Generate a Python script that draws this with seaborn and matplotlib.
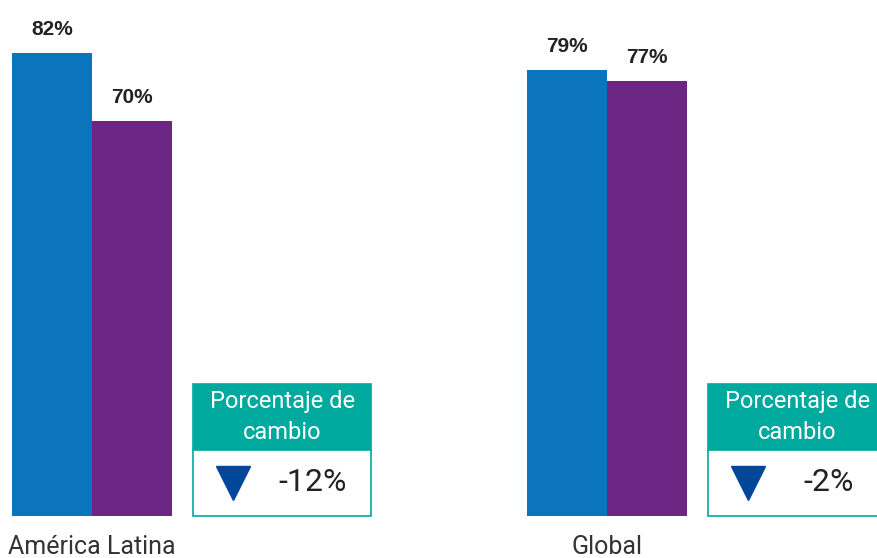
import matplotlib
matplotlib.use("Agg")
import matplotlib.pyplot as plt
from matplotlib.patches import Rectangle
import seaborn as sns
import pandas as pd

regions = ["América Latina", "Global"]
series = ["Antes", "Después"]
values_before = [82, 79]
values_after = [70, 77]
changes = ["-12%", "-2%"]
box_header = "Porcentaje de\ncambio"

blue = "#0A74BD"
purple = "#6B2783"
teal = "#00A99D"
arrow_blue = "#00479A"

df = pd.DataFrame({
    "region": regions * 2,
    "serie": [series[0]] * 2 + [series[1]] * 2,
    "valor": values_before + values_after,
})

sns.set_theme(style="white")
plt.rcParams["font.family"] = ["Roboto", "DejaVu Sans"]

fig = plt.figure(figsize=(8.77, 5.58), dpi=100)
ax = fig.add_axes([0, 42 / 558, 1, 516 / 558])

sns.barplot(data=df, x="region", y="valor", hue="serie", palette=[blue, purple],
            width=0.311, saturation=1, legend=False, ax=ax, errorbar=None,
            linewidth=0, edgecolor="none")

for cont in ax.containers:
    ax.bar_label(cont, labels=[f"{v:.0f}%" for v in cont.datavalues], padding=10,
                 fontsize=15, fontweight="bold", color="#222222",
                 family=["Liberation Sans", "DejaVu Sans"])

ax.set_ylim(0, 91.4)
ax.set_xlim(-0.1786, 1.524)
for s in ax.spines.values():
    s.set_visible(False)
ax.set_yticks([])
ax.set_xlabel("")
ax.set_ylabel("")
ax.tick_params(axis="x", length=0, pad=14, labelsize=18, labelcolor="#333333")
for t in ax.get_xticklabels():
    t.set_fontweight("normal")

# change boxes
box_left = 0.196
box_w = 0.346
y_top = 23.4
y_mid = 11.7
for i, ch in enumerate(changes):
    x0 = i + box_left
    ax.add_patch(Rectangle((x0, y_mid), box_w, y_top - y_mid, facecolor=teal,
                           edgecolor=teal, lw=1.2, clip_on=False, zorder=3))
    ax.add_patch(Rectangle((x0, 0), box_w, y_mid, facecolor="white",
                           edgecolor=teal, lw=1.2, clip_on=False, zorder=3))
    ax.text(x0 + box_w / 2, (y_top + y_mid) / 2, box_header, ha="center", va="center",
            color="white", fontsize=17, fontweight="normal", linespacing=1.4, zorder=4)
    ax.plot([x0 + 0.077], [y_mid / 2], marker="v", markersize=25, color=arrow_blue,
            zorder=4, clip_on=False)
    ax.text(x0 + 0.233, y_mid / 2, ch, ha="center", va="center", color="#222222",
            fontsize=23, fontweight="normal", zorder=4)

fig.savefig("out.png", dpi=100)
